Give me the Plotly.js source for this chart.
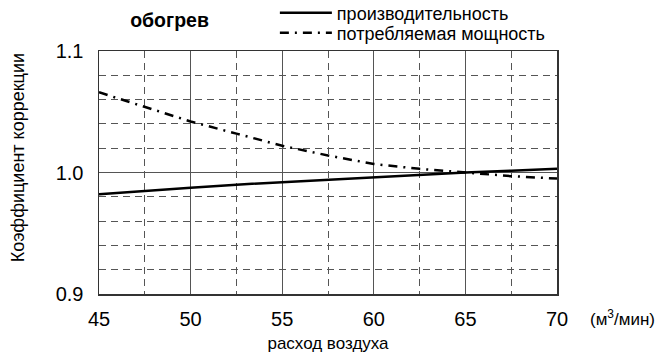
<!DOCTYPE html>
<html>
<head>
<meta charset="utf-8">
<script src="https://cdn.plot.ly/plotly-3.0.1.min.js"></script>
<style>html,body{margin:0;padding:0;background:#fff;}#chart{width:663px;height:358px;}</style>
</head>
<body>
<div id="chart"></div>
<script>
const airflow = [45, 47.5, 50, 52.5, 55, 57.5, 60, 62.5, 65, 67.5, 70];
const capacity = [0.982, 0.985, 0.9875, 0.990, 0.992, 0.9945, 0.9965, 0.998, 1.000, 1.0015, 1.003];
const power = [1.066, 1.054, 1.042, 1.032, 1.022, 1.014, 1.007, 1.003, 1.000, 0.997, 0.995];
const seriesNames = ['производительность', 'потребляемая мощность'];
const xTicks = [45, 50, 55, 60, 65, 70];
const yTicks = [0.9, 1.0, 1.1];
const yTickLabels = ['0.9', '1.0', '1.1'];

const FONT = 'Liberation Sans, Arial, sans-serif';
const traces = [
  {x: airflow, y: capacity, name: seriesNames[0], mode: 'lines', legend: 'legend', line: {color: '#000', width: 2.5}},
  {x: airflow, y: power, name: seriesNames[1], mode: 'lines', legend: 'legend2', line: {color: '#000', width: 2.5, dash: '9px,6px,2px,6px'}}
];
const gridCol = '#555';
const legendBase = {xanchor: 'left', yanchor: 'middle', font: {size: 18, family: FONT}, itemwidth: 52, bgcolor: 'rgba(0,0,0,0)', borderwidth: 0};
const layout = {
  width: 663, height: 358,
  margin: {l: 99, r: 106, t: 51, b: 64, autoexpand: false},
  paper_bgcolor: '#fff', plot_bgcolor: '#fff',
  font: {family: FONT, color: '#000'},
  showlegend: true,
  legend: Object.assign({x: 0.384, y: 1.156}, legendBase),
  legend2: Object.assign({x: 0.384, y: 1.074}, legendBase),
  title: {text: '<b>обогрев</b>', font: {size: 19.5, family: FONT}, xref: 'paper', x: 0.068, xanchor: 'left', yref: 'container', y: 0.944, yanchor: 'middle'},
  xaxis: {
    range: [45, 70], tickvals: xTicks, ticks: '', tickfont: {size: 20}, ticklabelstandoff: 6, showline: true, mirror: true, linecolor: '#333', linewidth: 1.5,
    showgrid: true, gridcolor: gridCol, gridwidth: 1, zeroline: false,
    minor: {dtick: 2.5, tick0: 45, showgrid: true, gridcolor: gridCol, griddash: '7px,5px', gridwidth: 1},
    title: {text: 'расход воздуха', font: {size: 17}, standoff: 8}
  },
  yaxis: {
    range: [0.9, 1.1], tickvals: yTicks, ticktext: yTickLabels, ticks: '', tickfont: {size: 20}, ticklabelstandoff: 10, showline: true, mirror: true, linecolor: '#333', linewidth: 1.5,
    showgrid: true, gridcolor: gridCol, gridwidth: 1, zeroline: false,
    minor: {dtick: 0.02, tick0: 0.9, showgrid: true, gridcolor: gridCol, griddash: '7px,5px', gridwidth: 1}
  },
  annotations: [
    {text: 'Коэффициент коррекции', textangle: -90, xref: 'paper', yref: 'paper', x: -0.176, y: 0.56, xanchor: 'center', yanchor: 'middle', showarrow: false, font: {size: 18}},
    {text: '(м<sup>3</sup>/мин)', xref: 'paper', yref: 'paper', x: 1.068, y: -0.099, xanchor: 'left', yanchor: 'middle', showarrow: false, font: {size: 17}}
  ]
};
Plotly.newPlot('chart', traces, layout, {displayModeBar: false, staticPlot: true});
</script>
</body>
</html>
